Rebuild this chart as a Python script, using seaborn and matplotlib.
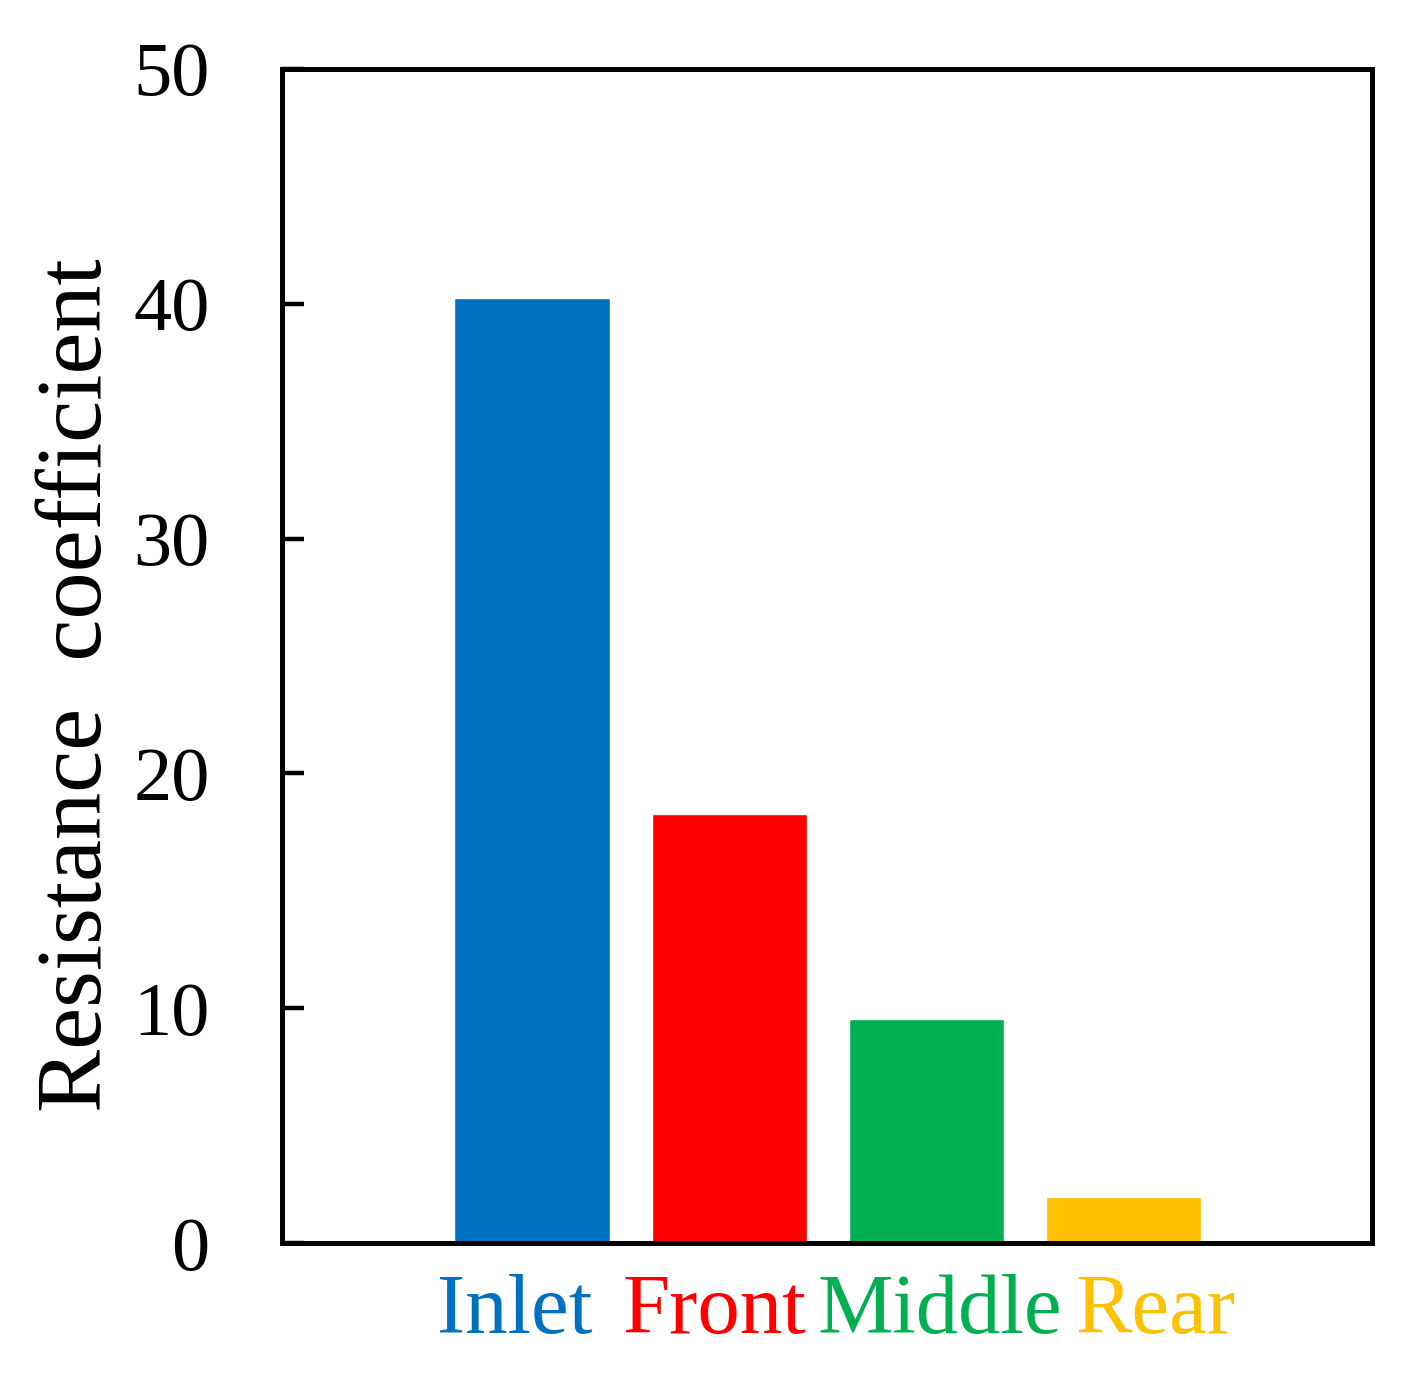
import matplotlib
matplotlib.use("Agg")
import matplotlib.pyplot as plt
import matplotlib.transforms as mtransforms
import seaborn as sns
import pandas as pd

categories = ["Inlet", "Front", "Middle", "Rear"]
values = [40.25, 18.27, 9.54, 1.96]
colors = ["#0070C0", "#FF0000", "#00B050", "#FFC000"]
yticks = [0, 10, 20, 30, 40, 50]
label_shift_px = [-18, -15, 13, 32]

sns.set_theme(style="white")
plt.rcParams["font.family"] = ["Liberation Serif", "DejaVu Serif"]

df = pd.DataFrame({"cat": categories, "val": values})

fig = plt.figure(figsize=(14.14, 13.77), dpi=100)
ax = fig.add_axes([0.1994, 0.0973, 0.9703 - 0.1994, 0.9499 - 0.0973])
sns.barplot(data=df, x="cat", y="val", hue="cat", palette=colors,
            legend=False, width=0.79, ax=ax, saturation=1)

ax.set_xlim(-1.27, 4.26)
ax.set_ylim(0, 50)
ax.set_yticks(yticks)
ax.set_yticklabels([str(t) for t in yticks], fontsize=55, color="black")
ax.tick_params(axis="y", direction="in", length=16, width=3.2, pad=52,
               left=True, color="black")
ax.tick_params(axis="x", length=0, pad=22)
for lbl, c, dx in zip(ax.get_xticklabels(), colors, label_shift_px):
    lbl.set_color(c)
    lbl.set_fontsize(61)
    lbl.set_transform(lbl.get_transform() +
                      mtransforms.ScaledTranslation(dx / 100, 0, fig.dpi_scale_trans))
ax.set_xlabel("")
ax.set_ylabel("Resistance  coefficient", fontsize=68, color="black")
ax.yaxis.set_label_coords(-0.148, 0.475)
for s in ax.spines.values():
    s.set_visible(True)
    s.set_linewidth(3.6)
    s.set_color("black")

fig.savefig("out.png", dpi=100)
